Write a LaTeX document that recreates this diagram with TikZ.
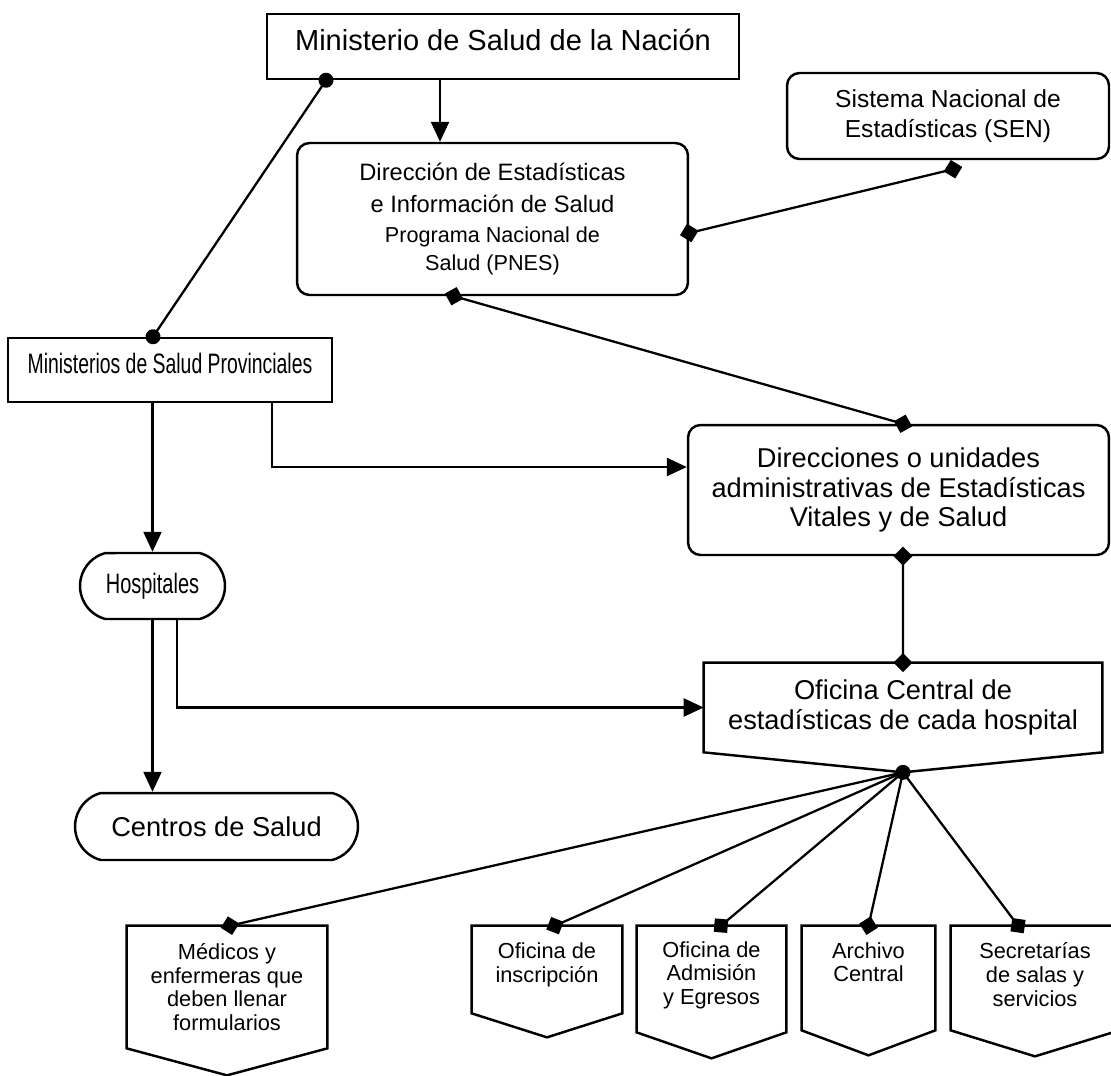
\documentclass[tikz,border=0pt]{standalone}
\usepackage{fontspec}
\setmainfont{Liberation Sans}
\usetikzlibrary{arrows.meta,calc,shapes.misc}
\newcommand\fNac{\fontsize{16.5}{19}\selectfont}
\newcommand\fDesi{\fontsize{13.5}{18}\selectfont}
\newcommand\fSub{\fontsize{12.3}{16}\selectfont}
\newcommand\fMid{\fontsize{15.5}{17}\selectfont}
\newcommand\fSen{\fontsize{14}{17}\selectfont}
\newcommand\fBot{\fontsize{12.4}{13.4}\selectfont}
\newcommand\flagout[2]{\draw[boxline] (#1.north west) -- (#1.north east) -- (#1.south east) -- ($(#1.south)+(0,#2)$) -- (#1.south west) -- cycle;}
\tikzset{
  ln/.style={line width=1.3pt},
  boxline/.style={line width=1.4pt, line join=miter},
  sqbox/.style={draw, line width=1.4pt, rectangle, inner sep=0pt, align=center},
  rbox/.style={draw, line width=1.4pt, rectangle, rounded corners=0.25cm, inner sep=0pt, align=center},
  stad/.style={draw, line width=1.4pt, rounded rectangle, rounded rectangle arc length=150, inner sep=0pt, align=center},
  flagbox/.style={rectangle, inner sep=0pt, align=center, font=\fBot},
  arr/.style={ln, -{Triangle[length=0.4cm,width=0.36cm]}},
  dd/.style={ln, {Diamond[length=0.38cm,width=0.38cm]}-{Diamond[length=0.38cm,width=0.38cm]}, shorten <=-0.19cm, shorten >=-0.19cm},
  dend/.style={ln, -{Diamond[length=0.38cm,width=0.38cm]}, shorten >=-0.19cm},
  cc/.style={ln, {Circle[length=0.3cm]}-{Circle[length=0.3cm]}, shorten <=-0.15cm, shorten >=-0.15cm},
}
\begin{document}
\begin{tikzpicture}[x=0.02cm, y=-0.02cm]
\useasboundingbox (0,0) rectangle (1111,1075);
\clip (0,0) rectangle (1111,1075);

% boxes
\node[sqbox, minimum width=9.44cm, minimum height=1.3cm, font=\fNac, text depth=7.5pt] (nacion) at (503,46.5) {Ministerio de Salud de la Nación};
\node[rbox, minimum width=7.82cm, minimum height=3.04cm, font=\fDesi] (desi) at (492.5,219)
  {Dirección de Estadísticas\\e Información de Salud\\[-1pt]\fSub Programa Nacional de\\[-2pt]\fSub Salud (PNES)};
\node[rbox, minimum width=6.44cm, minimum height=1.72cm, font=\fSen] (sen) at (948,116) {Sistema Nacional de\\Estadísticas (SEN)};
\node[sqbox, minimum width=6.48cm, minimum height=1.28cm, font=\fontsize{16}{18}\selectfont, text depth=8pt] (prov) at (170,370) {\scalebox{0.69}[1]{Ministerios de Salud Provinciales}};
\node[rbox, minimum width=8.42cm, minimum height=2.6cm, font=\fMid] (dir) at (898.5,490) {Direcciones o unidades\\administrativas de Estadísticas\\Vitales y de Salud};
\node[stad, minimum width=2.9cm, minimum height=1.32cm, font=\fontsize{16}{18}\selectfont] (hosp) at (152.5,586) {\scalebox{0.71}[1]{Hospitales}};
\node[stad, minimum width=5.66cm, minimum height=1.34cm, font=\fMid] (centros) at (216.5,826.5) {Centros de Salud};
\node[flagbox, minimum width=7.96cm, minimum height=1.78cm, font=\fMid] (ofc) at (903,707.5) {Oficina Central de\\estadísticas de cada hospital};
\flagout{ofc}{20}

\node[flagbox, minimum width=4cm, minimum height=2.44cm] (med) at (227,987) {Médicos y\\enfermeras que\\deben llenar\\formularios};
\flagout{med}{27}
\node[flagbox, minimum width=3cm, minimum height=1.74cm, text depth=7.6pt] (insc) at (547,969.5) {Oficina de\\inscripción};
\flagout{insc}{24}
\node[flagbox, minimum width=2.98cm, minimum height=2.12cm, text depth=7pt] (adm) at (711.5,979) {Oficina de\\Admisión\\y Egresos};
\flagout{adm}{26}
\node[flagbox, minimum width=2.66cm, minimum height=2.08cm, text depth=18pt] (arch) at (868.5,978) {Archivo\\Central};
\flagout{arch}{25}
\node[flagbox, minimum width=3.36cm, minimum height=2.08cm, text depth=4pt] (secr) at (1035,978) {Secretarías\\de salas y\\servicios};
\flagout{secr}{26}

% connectors
\draw[arr] ($(nacion.south)+(-63,0)$) -- ($(desi.north)+(-52.5,0)$);
\draw[cc] ($(nacion.south)+(-177,0)$) -- ($(prov.north)+(-17,0)$);
\draw[dd] ($(desi.east)+(0,14)$) -- ($(sen.south)+(5,9)$);
\draw[dd] ($(desi.south)+(-38.5,0)$) -- ($(dir.north)+(4.5,0)$);
\draw[dd] ($(dir.south)+(4.5,0)$) -- (ofc.north);
\draw[arr] (hosp.north |- prov.south) -- (hosp.north);
\draw[arr] ($(prov.south)+(102,0)$) |- ($(dir.west)+(0,-23)$);
\draw[arr] (hosp.south) -- (hosp.south |- centros.north);
\draw[arr] ($(hosp.south)+(24.5,0)$) |- (ofc.west);

\coordinate (apex) at ($(ofc.south)+(0,20)$);
\draw[dend] (apex) -- ($(med.north)+(3,0)$);
\draw[dend] (apex) -- ($(insc.north)+(8,0)$);
\draw[dend] (apex) -- ($(adm.north)+(9.5,0)$);
\draw[dend] (apex) -- (arch.north);
\draw[dend] (apex) -- ($(secr.north)+(-17,0)$);
\fill (apex) circle (0.15cm);
\end{tikzpicture}
\end{document}
